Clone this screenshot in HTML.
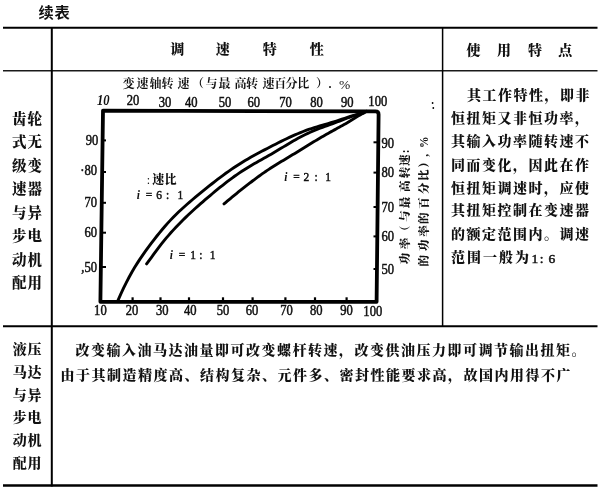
<!DOCTYPE html>
<html><head><meta charset="utf-8"><title>续表</title>
<style>
html,body{margin:0;padding:0;background:#fff;}
body{width:601px;height:489px;overflow:hidden;}
svg{display:block;filter:grayscale(1);}
text{fill:#111;}
</style></head><body>
<svg width="601" height="489" viewBox="0 0 601 489">
<text x="38.5" y="18" style='font-size:15.3px;font-weight:700;font-family:"Liberation Sans", "Noto Sans CJK SC", sans-serif;letter-spacing:0.6px;' >续表</text>
<line x1="3" y1="27.8" x2="597.5" y2="27.8" stroke="#000" stroke-width="2"/>
<line x1="3" y1="70.7" x2="597.5" y2="70.7" stroke="#1a1a1a" stroke-width="1.4"/>
<line x1="3" y1="326.2" x2="597.5" y2="326.2" stroke="#000" stroke-width="2"/>
<line x1="3" y1="485.5" x2="597.5" y2="485.5" stroke="#000" stroke-width="2.5"/>
<line x1="51.8" y1="27" x2="51.8" y2="486.5" stroke="#000" stroke-width="2"/>
<line x1="442.6" y1="27" x2="442.6" y2="326.5" stroke="#000" stroke-width="1.5"/>
<text x="170.3" y="54.2" style='font-size:14px;font-weight:900;font-family:"Liberation Serif", "Noto Serif CJK SC", serif;' >调</text>
<text x="215.8" y="54.2" style='font-size:14px;font-weight:900;font-family:"Liberation Serif", "Noto Serif CJK SC", serif;' >速</text>
<text x="262.8" y="54.2" style='font-size:14px;font-weight:900;font-family:"Liberation Serif", "Noto Serif CJK SC", serif;' >特</text>
<text x="309.8" y="54.2" style='font-size:14px;font-weight:900;font-family:"Liberation Serif", "Noto Serif CJK SC", serif;' >性</text>
<text x="466.4" y="54.6" style='font-size:14px;font-weight:900;font-family:"Liberation Serif", "Noto Serif CJK SC", serif;' >使</text>
<text x="496.9" y="54.6" style='font-size:14px;font-weight:900;font-family:"Liberation Serif", "Noto Serif CJK SC", serif;' >用</text>
<text x="528" y="54.6" style='font-size:14px;font-weight:900;font-family:"Liberation Serif", "Noto Serif CJK SC", serif;' >特</text>
<text x="558.3" y="54.6" style='font-size:14px;font-weight:900;font-family:"Liberation Serif", "Noto Serif CJK SC", serif;' >点</text>
<text x="12.0" y="123.8" style='font-size:14.5px;font-weight:900;font-family:"Liberation Serif", "Noto Serif CJK SC", serif;letter-spacing:0.9px;' >齿轮</text>
<text x="12.0" y="147.3" style='font-size:14.5px;font-weight:900;font-family:"Liberation Serif", "Noto Serif CJK SC", serif;letter-spacing:0.9px;' >式无</text>
<text x="12.0" y="170.8" style='font-size:14.5px;font-weight:900;font-family:"Liberation Serif", "Noto Serif CJK SC", serif;letter-spacing:0.9px;' >级变</text>
<text x="12.0" y="194.3" style='font-size:14.5px;font-weight:900;font-family:"Liberation Serif", "Noto Serif CJK SC", serif;letter-spacing:0.9px;' >速器</text>
<text x="12.0" y="217.8" style='font-size:14.5px;font-weight:900;font-family:"Liberation Serif", "Noto Serif CJK SC", serif;letter-spacing:0.9px;' >与异</text>
<text x="12.0" y="241.3" style='font-size:14.5px;font-weight:900;font-family:"Liberation Serif", "Noto Serif CJK SC", serif;letter-spacing:0.9px;' >步电</text>
<text x="12.0" y="264.8" style='font-size:14.5px;font-weight:900;font-family:"Liberation Serif", "Noto Serif CJK SC", serif;letter-spacing:0.9px;' >动机</text>
<text x="12.0" y="288.3" style='font-size:14.5px;font-weight:900;font-family:"Liberation Serif", "Noto Serif CJK SC", serif;letter-spacing:0.9px;' >配用</text>
<text x="12.8" y="354.0" style='font-size:14px;font-weight:900;font-family:"Liberation Serif", "Noto Serif CJK SC", serif;letter-spacing:0.6px;' >液压</text>
<text x="12.8" y="376.8" style='font-size:14px;font-weight:900;font-family:"Liberation Serif", "Noto Serif CJK SC", serif;letter-spacing:0.6px;' >马达</text>
<text x="12.8" y="399.6" style='font-size:14px;font-weight:900;font-family:"Liberation Serif", "Noto Serif CJK SC", serif;letter-spacing:0.6px;' >与异</text>
<text x="12.8" y="422.4" style='font-size:14px;font-weight:900;font-family:"Liberation Serif", "Noto Serif CJK SC", serif;letter-spacing:0.6px;' >步电</text>
<text x="12.8" y="445.2" style='font-size:14px;font-weight:900;font-family:"Liberation Serif", "Noto Serif CJK SC", serif;letter-spacing:0.6px;' >动机</text>
<text x="12.8" y="468.0" style='font-size:14px;font-weight:900;font-family:"Liberation Serif", "Noto Serif CJK SC", serif;letter-spacing:0.6px;' >配用</text>
<text x="467" y="100.3" style='font-size:14px;font-weight:900;font-family:"Liberation Serif", "Noto Serif CJK SC", serif;letter-spacing:1.5px;' >其工作特性，即非</text>
<text x="451" y="123.4" style='font-size:14px;font-weight:900;font-family:"Liberation Serif", "Noto Serif CJK SC", serif;letter-spacing:1.5px;' >恒扭矩又非恒功率，</text>
<text x="451" y="146.0" style='font-size:14px;font-weight:900;font-family:"Liberation Serif", "Noto Serif CJK SC", serif;letter-spacing:1.5px;' >其输入功率随转速不</text>
<text x="451" y="169.5" style='font-size:14px;font-weight:900;font-family:"Liberation Serif", "Noto Serif CJK SC", serif;letter-spacing:1.5px;' >同而变化，因此在作</text>
<text x="451" y="192.5" style='font-size:14px;font-weight:900;font-family:"Liberation Serif", "Noto Serif CJK SC", serif;letter-spacing:1.5px;' >恒扭矩调速时，应使</text>
<text x="451" y="215.1" style='font-size:14px;font-weight:900;font-family:"Liberation Serif", "Noto Serif CJK SC", serif;letter-spacing:1.5px;' >其扭矩控制在变速器</text>
<text x="451" y="239.2" style='font-size:14px;font-weight:900;font-family:"Liberation Serif", "Noto Serif CJK SC", serif;letter-spacing:1.5px;' >的额定范围内。调速</text>
<text x="451" y="262.3" style='font-size:14px;font-weight:900;font-family:"Liberation Serif", "Noto Serif CJK SC", serif;letter-spacing:2.0px;' >范围一般为</text>
<text x="531.5" y="263.3" style='font-size:13.5px;font-weight:400;font-family:"Liberation Serif", serif;stroke:#111;stroke-width:0.5px;'>1</text>
<text x="539.8" y="263.3" style='font-size:13.5px;font-weight:400;font-family:"Liberation Serif", serif;stroke:#111;stroke-width:0.5px;'>:</text>
<text x="548.5" y="263.3" style='font-size:13.5px;font-weight:400;font-family:"Liberation Serif", serif;stroke:#111;stroke-width:0.5px;'>6</text>
<text x="75.6" y="355.3" style='font-size:14px;font-weight:900;font-family:"Liberation Serif", "Noto Serif CJK SC", serif;letter-spacing:1.5px;' >改变输入油马达油量即可改变螺杆转速，改变供油压力即可调节输出扭矩。</text>
<text x="60.6" y="379.5" style='font-size:14px;font-weight:900;font-family:"Liberation Serif", "Noto Serif CJK SC", serif;letter-spacing:1.5px;' >由于其制造精度高、结构复杂、元件多、密封性能要求高，故国内用得不广</text>
<path d="M103,110.6 L375.5,111.4 Q378.6,111.4 378.6,114.5 L376.6,301.8 L100.4,301.8 Z" fill="none" stroke="#000" stroke-width="3.8" stroke-linejoin="round"/>
<line x1="132.6" y1="297.3" x2="132.6" y2="301" stroke="#000" stroke-width="2.2"/>
<line x1="160.5" y1="297.3" x2="160.5" y2="301" stroke="#000" stroke-width="2.2"/>
<line x1="189" y1="297.3" x2="189" y2="301" stroke="#000" stroke-width="2.2"/>
<line x1="223" y1="297.3" x2="223" y2="301" stroke="#000" stroke-width="2.2"/>
<line x1="252.6" y1="297.3" x2="252.6" y2="301" stroke="#000" stroke-width="2.2"/>
<line x1="285.4" y1="297.3" x2="285.4" y2="301" stroke="#000" stroke-width="2.2"/>
<line x1="315" y1="297.3" x2="315" y2="301" stroke="#000" stroke-width="2.2"/>
<line x1="346.6" y1="297.3" x2="346.6" y2="301" stroke="#000" stroke-width="2.2"/>
<line x1="101" y1="140.4" x2="106" y2="140.4" stroke="#000" stroke-width="2"/>
<line x1="101" y1="172" x2="106" y2="172" stroke="#000" stroke-width="2"/>
<line x1="101" y1="202.8" x2="106" y2="202.8" stroke="#000" stroke-width="2"/>
<line x1="101" y1="232.7" x2="106" y2="232.7" stroke="#000" stroke-width="2"/>
<line x1="101" y1="267" x2="106" y2="267" stroke="#000" stroke-width="2"/>
<line x1="373.5" y1="142.3" x2="378" y2="142.3" stroke="#000" stroke-width="2"/>
<line x1="373.5" y1="172.6" x2="378" y2="172.6" stroke="#000" stroke-width="2"/>
<line x1="373.5" y1="207" x2="378" y2="207" stroke="#000" stroke-width="2"/>
<line x1="373.5" y1="236.4" x2="378" y2="236.4" stroke="#000" stroke-width="2"/>
<line x1="373.5" y1="269" x2="378" y2="269" stroke="#000" stroke-width="2"/>
<text transform="translate(103.3,105) scale(0.9,1)" text-anchor="middle" style='font-size:14px;font-weight:700;font-style:italic;font-family:"Liberation Serif", serif;'>10</text>
<text transform="translate(133,104.6) scale(0.9,1)" text-anchor="middle" style='font-size:14px;font-weight:400;font-family:"Liberation Serif", serif;stroke:#111;stroke-width:0.5px;'>20</text>
<text transform="translate(165,107.3) scale(0.9,1)" text-anchor="middle" style='font-size:14px;font-weight:400;font-family:"Liberation Serif", serif;stroke:#111;stroke-width:0.5px;'>30</text>
<text transform="translate(191.3,107.3) scale(0.9,1)" text-anchor="middle" style='font-size:14px;font-weight:400;font-family:"Liberation Serif", serif;stroke:#111;stroke-width:0.5px;'>40</text>
<text transform="translate(225,106.5) scale(0.9,1)" text-anchor="middle" style='font-size:14px;font-weight:400;font-family:"Liberation Serif", serif;stroke:#111;stroke-width:0.5px;'>50</text>
<text transform="translate(253.7,107.3) scale(0.9,1)" text-anchor="middle" style='font-size:14px;font-weight:400;font-family:"Liberation Serif", serif;stroke:#111;stroke-width:0.5px;'>60</text>
<text transform="translate(285.5,106.5) scale(0.9,1)" text-anchor="middle" style='font-size:14px;font-weight:400;font-family:"Liberation Serif", serif;stroke:#111;stroke-width:0.5px;'>70</text>
<text transform="translate(316.5,107.2) scale(0.9,1)" text-anchor="middle" style='font-size:14px;font-weight:400;font-family:"Liberation Serif", serif;stroke:#111;stroke-width:0.5px;'>80</text>
<text transform="translate(347.3,106.8) scale(0.9,1)" text-anchor="middle" style='font-size:14px;font-weight:400;font-family:"Liberation Serif", serif;stroke:#111;stroke-width:0.5px;'>90</text>
<text transform="translate(377.8,105.7) scale(0.9,1)" text-anchor="middle" style='font-size:14px;font-weight:400;font-family:"Liberation Serif", serif;stroke:#111;stroke-width:0.5px;'>100</text>
<text transform="translate(100.4,315.3) scale(0.9,1)" text-anchor="middle" style='font-size:14px;font-weight:400;font-family:"Liberation Serif", serif;stroke:#111;stroke-width:0.5px;'>10</text>
<text transform="translate(132,315.3) scale(0.9,1)" text-anchor="middle" style='font-size:14px;font-weight:400;font-family:"Liberation Serif", serif;stroke:#111;stroke-width:0.5px;'>20</text>
<text transform="translate(162.3,315.3) scale(0.9,1)" text-anchor="middle" style='font-size:14px;font-weight:400;font-family:"Liberation Serif", serif;stroke:#111;stroke-width:0.5px;'>30</text>
<text transform="translate(190.3,315.3) scale(0.9,1)" text-anchor="middle" style='font-size:14px;font-weight:400;font-family:"Liberation Serif", serif;stroke:#111;stroke-width:0.5px;'>40</text>
<text transform="translate(223,315.3) scale(0.9,1)" text-anchor="middle" style='font-size:14px;font-weight:400;font-family:"Liberation Serif", serif;stroke:#111;stroke-width:0.5px;'>50</text>
<text transform="translate(252,315.3) scale(0.9,1)" text-anchor="middle" style='font-size:14px;font-weight:400;font-family:"Liberation Serif", serif;stroke:#111;stroke-width:0.5px;'>60</text>
<text transform="translate(286.6,315.3) scale(0.9,1)" text-anchor="middle" style='font-size:14px;font-weight:400;font-family:"Liberation Serif", serif;stroke:#111;stroke-width:0.5px;'>70</text>
<text transform="translate(316.3,315.3) scale(0.9,1)" text-anchor="middle" style='font-size:14px;font-weight:400;font-family:"Liberation Serif", serif;stroke:#111;stroke-width:0.5px;'>80</text>
<text transform="translate(346.5,315.3) scale(0.9,1)" text-anchor="middle" style='font-size:14px;font-weight:400;font-family:"Liberation Serif", serif;stroke:#111;stroke-width:0.5px;'>90</text>
<text transform="translate(372.8,316.2) scale(0.9,1)" text-anchor="middle" style='font-size:14px;font-weight:400;font-family:"Liberation Serif", serif;stroke:#111;stroke-width:0.5px;'>100</text>
<text transform="translate(98.3,144.5) scale(0.9,1)" text-anchor="end" style='font-size:14px;font-weight:400;font-family:"Liberation Serif", serif;stroke:#111;stroke-width:0.5px;'>90</text>
<text transform="translate(97,175.2) scale(0.9,1)" text-anchor="end" style='font-size:14px;font-weight:400;font-family:"Liberation Serif", serif;stroke:#111;stroke-width:0.5px;'>·80</text>
<text transform="translate(97,207) scale(0.9,1)" text-anchor="end" style='font-size:14px;font-weight:400;font-family:"Liberation Serif", serif;stroke:#111;stroke-width:0.5px;'>70</text>
<text transform="translate(97,236.8) scale(0.9,1)" text-anchor="end" style='font-size:14px;font-weight:400;font-family:"Liberation Serif", serif;stroke:#111;stroke-width:0.5px;'>60</text>
<text transform="translate(97,271.6) scale(0.9,1)" text-anchor="end" style='font-size:14px;font-weight:400;font-family:"Liberation Serif", serif;stroke:#111;stroke-width:0.5px;'>,50</text>
<text transform="translate(381.5,147.6) scale(0.9,1)" text-anchor="start" style='font-size:14px;font-weight:400;font-family:"Liberation Serif", serif;stroke:#111;stroke-width:0.5px;'>90</text>
<text transform="translate(381.5,177.3) scale(0.9,1)" text-anchor="start" style='font-size:14px;font-weight:400;font-family:"Liberation Serif", serif;stroke:#111;stroke-width:0.5px;'>80</text>
<text transform="translate(381.5,212) scale(0.9,1)" text-anchor="start" style='font-size:14px;font-weight:400;font-family:"Liberation Serif", serif;stroke:#111;stroke-width:0.5px;'>70</text>
<text transform="translate(381.5,241) scale(0.9,1)" text-anchor="start" style='font-size:14px;font-weight:400;font-family:"Liberation Serif", serif;stroke:#111;stroke-width:0.5px;'>60</text>
<text transform="translate(381.5,273.6) scale(0.9,1)" text-anchor="start" style='font-size:14px;font-weight:400;font-family:"Liberation Serif", serif;stroke:#111;stroke-width:0.5px;'>50</text>
<text x="122.7" y="87.8" style='font-size:12px;font-weight:700;font-family:"Liberation Serif", "Noto Serif CJK SC", serif;'>变</text>
<text x="136.4" y="87.8" style='font-size:12px;font-weight:700;font-family:"Liberation Serif", "Noto Serif CJK SC", serif;'>速</text>
<text x="149.6" y="87.8" style='font-size:12px;font-weight:700;font-family:"Liberation Serif", "Noto Serif CJK SC", serif;'>轴</text>
<text x="161.5" y="87.8" style='font-size:12px;font-weight:700;font-family:"Liberation Serif", "Noto Serif CJK SC", serif;'>转</text>
<text x="177.5" y="87.8" style='font-size:12px;font-weight:700;font-family:"Liberation Serif", "Noto Serif CJK SC", serif;'>速</text>
<text x="192" y="87.8" style='font-size:12px;font-weight:700;font-family:"Liberation Serif", "Noto Serif CJK SC", serif;'>（</text>
<text x="205.5" y="87.8" style='font-size:12px;font-weight:700;font-family:"Liberation Serif", "Noto Serif CJK SC", serif;'>与</text>
<text x="218.6" y="87.8" style='font-size:12px;font-weight:700;font-family:"Liberation Serif", "Noto Serif CJK SC", serif;'>最</text>
<text x="234.5" y="87.8" style='font-size:12px;font-weight:700;font-family:"Liberation Serif", "Noto Serif CJK SC", serif;'>高</text>
<text x="245.9" y="87.8" style='font-size:12px;font-weight:700;font-family:"Liberation Serif", "Noto Serif CJK SC", serif;'>转</text>
<text x="262.4" y="87.8" style='font-size:12px;font-weight:700;font-family:"Liberation Serif", "Noto Serif CJK SC", serif;'>速</text>
<text x="274.3" y="87.8" style='font-size:12px;font-weight:700;font-family:"Liberation Serif", "Noto Serif CJK SC", serif;'>百</text>
<text x="285.5" y="87.8" style='font-size:12px;font-weight:700;font-family:"Liberation Serif", "Noto Serif CJK SC", serif;'>分</text>
<text x="297.3" y="87.8" style='font-size:12px;font-weight:700;font-family:"Liberation Serif", "Noto Serif CJK SC", serif;'>比</text>
<text x="316" y="87.8" style='font-size:12px;font-weight:700;font-family:"Liberation Serif", "Noto Serif CJK SC", serif;'>）</text>
<text x="328.5" y="87.8" style='font-size:12px;font-weight:700;font-family:"Liberation Serif", "Noto Serif CJK SC", serif;'>.</text>
<text x="339" y="88.8" style='font-size:13.5px;font-family:"Liberation Serif", serif;'>%</text>
<text transform="translate(408.6,264.2) rotate(-90)" style='font-size:11.5px;font-weight:900;font-family:"Liberation Serif", "Noto Serif CJK SC", serif;'>功</text>
<text transform="translate(408.6,249.3) rotate(-90)" style='font-size:11.5px;font-weight:900;font-family:"Liberation Serif", "Noto Serif CJK SC", serif;'>率</text>
<text transform="translate(408.6,237) rotate(-90)" style='font-size:11.5px;font-weight:900;font-family:"Liberation Serif", "Noto Serif CJK SC", serif;'>（</text>
<text transform="translate(408.6,221.7) rotate(-90)" style='font-size:11.5px;font-weight:900;font-family:"Liberation Serif", "Noto Serif CJK SC", serif;'>与</text>
<text transform="translate(408.6,208.3) rotate(-90)" style='font-size:11.5px;font-weight:900;font-family:"Liberation Serif", "Noto Serif CJK SC", serif;'>最</text>
<text transform="translate(408.6,191.9) rotate(-90)" style='font-size:11.5px;font-weight:900;font-family:"Liberation Serif", "Noto Serif CJK SC", serif;'>高</text>
<text transform="translate(408.6,178.2) rotate(-90)" style='font-size:11.5px;font-weight:900;font-family:"Liberation Serif", "Noto Serif CJK SC", serif;'>转</text>
<text transform="translate(408.6,166) rotate(-90)" style='font-size:11.5px;font-weight:900;font-family:"Liberation Serif", "Noto Serif CJK SC", serif;'>速</text>
<text transform="translate(408.6,153.2) rotate(-90)" style='font-size:11.5px;font-weight:900;font-family:"Liberation Serif", "Noto Serif CJK SC", serif;'>:</text>
<text transform="translate(428,266.6) rotate(-90)" style='font-size:11.5px;font-weight:900;font-family:"Liberation Serif", "Noto Serif CJK SC", serif;'>的</text>
<text transform="translate(428,251) rotate(-90)" style='font-size:11.5px;font-weight:900;font-family:"Liberation Serif", "Noto Serif CJK SC", serif;'>功</text>
<text transform="translate(428,236.8) rotate(-90)" style='font-size:11.5px;font-weight:900;font-family:"Liberation Serif", "Noto Serif CJK SC", serif;'>率</text>
<text transform="translate(428,224) rotate(-90)" style='font-size:11.5px;font-weight:900;font-family:"Liberation Serif", "Noto Serif CJK SC", serif;'>的</text>
<text transform="translate(428,208.7) rotate(-90)" style='font-size:11.5px;font-weight:900;font-family:"Liberation Serif", "Noto Serif CJK SC", serif;'>百</text>
<text transform="translate(428,194) rotate(-90)" style='font-size:11.5px;font-weight:900;font-family:"Liberation Serif", "Noto Serif CJK SC", serif;'>分</text>
<text transform="translate(428,181) rotate(-90)" style='font-size:11.5px;font-weight:900;font-family:"Liberation Serif", "Noto Serif CJK SC", serif;'>比</text>
<text transform="translate(428,167.8) rotate(-90)" style='font-size:11.5px;font-weight:900;font-family:"Liberation Serif", "Noto Serif CJK SC", serif;'>）</text>
<text transform="translate(428,156.8) rotate(-90)" style='font-size:11.5px;font-weight:900;font-family:"Liberation Serif", "Noto Serif CJK SC", serif;'>,</text>
<text transform="translate(428,148) rotate(-90)" style='font-size:11.5px;font-weight:900;font-family:"Liberation Serif", "Noto Serif CJK SC", serif;'>%</text>
<path d="M118.0,300.44 L120.76,294.12 L123.53,288.16 L126.29,282.55 L129.06,277.27 L131.82,272.28 L134.58,267.57 L137.35,263.12 L140.11,258.87 L142.88,254.81 L145.64,250.9 L148.4,247.11 L151.17,243.41 L153.93,239.8 L156.7,236.27 L159.46,232.82 L162.22,229.48 L164.99,226.24 L167.75,223.12 L170.52,220.13 L173.28,217.25 L176.04,214.48 L178.81,211.81 L181.57,209.23 L184.34,206.72 L187.1,204.27 L189.87,201.88 L192.63,199.52 L195.39,197.2 L198.16,194.91 L200.92,192.63 L203.69,190.38 L206.45,188.15 L209.21,185.94 L211.98,183.75 L214.74,181.59 L217.51,179.46 L220.27,177.37 L223.03,175.31 L225.8,173.29 L228.56,171.32 L231.33,169.4 L234.09,167.53 L236.85,165.71 L239.62,163.95 L242.38,162.23 L245.15,160.56 L247.91,158.93 L250.67,157.35 L253.44,155.8 L256.2,154.29 L258.97,152.8 L261.73,151.32 L264.49,149.87 L267.26,148.43 L270.02,147.0 L272.79,145.58 L275.55,144.17 L278.31,142.77 L281.08,141.4 L283.84,140.04 L286.61,138.71 L289.37,137.41 L292.13,136.14 L294.9,134.91 L297.66,133.73 L300.43,132.59 L303.19,131.49 L305.96,130.45 L308.72,129.46 L311.48,128.52 L314.25,127.63 L317.01,126.78 L319.78,125.96 L322.54,125.16 L325.3,124.37 L328.07,123.57 L330.83,122.75 L333.6,121.91 L336.36,121.04 L339.12,120.14 L341.89,119.21 L344.65,118.28 L347.42,117.36 L350.18,116.46 L352.94,115.61 L355.71,114.81 L358.47,114.09 L361.24,113.45 L364.0,112.91" fill="none" stroke="#000" stroke-width="2.9" stroke-linecap="round" stroke-linejoin="round"/>
<path d="M146.6,263.94 L149.04,260.61 L151.49,257.28 L153.93,253.93 L156.37,250.6 L158.81,247.34 L161.26,244.17 L163.7,241.11 L166.14,238.17 L168.58,235.32 L171.03,232.56 L173.47,229.88 L175.91,227.27 L178.36,224.72 L180.8,222.22 L183.24,219.79 L185.68,217.4 L188.13,215.07 L190.57,212.77 L193.01,210.52 L195.45,208.3 L197.9,206.11 L200.34,203.95 L202.78,201.81 L205.22,199.7 L207.67,197.61 L210.11,195.54 L212.55,193.49 L215.0,191.46 L217.44,189.46 L219.88,187.48 L222.32,185.53 L224.77,183.61 L227.21,181.72 L229.65,179.87 L232.09,178.06 L234.54,176.3 L236.98,174.58 L239.42,172.91 L241.87,171.28 L244.31,169.71 L246.75,168.17 L249.19,166.69 L251.64,165.23 L254.08,163.82 L256.52,162.42 L258.96,161.05 L261.41,159.68 L263.85,158.32 L266.29,156.94 L268.73,155.56 L271.18,154.15 L273.62,152.73 L276.06,151.29 L278.51,149.83 L280.95,148.36 L283.39,146.88 L285.83,145.4 L288.28,143.93 L290.72,142.47 L293.16,141.04 L295.6,139.64 L298.05,138.28 L300.49,136.97 L302.93,135.7 L305.38,134.49 L307.82,133.33 L310.26,132.22 L312.7,131.17 L315.15,130.16 L317.59,129.2 L320.03,128.27 L322.47,127.37 L324.92,126.48 L327.36,125.6 L329.8,124.72 L332.24,123.83 L334.69,122.92 L337.13,122.0 L339.57,121.06 L342.02,120.12 L344.46,119.18 L346.9,118.25 L349.34,117.34 L351.79,116.46 L354.23,115.62 L356.67,114.83 L359.11,114.1 L361.56,113.42 L364.0,112.82" fill="none" stroke="#000" stroke-width="2.9" stroke-linecap="round" stroke-linejoin="round"/>
<path d="M224.0,203.89 L225.6,202.53 L227.2,201.18 L228.8,199.84 L230.4,198.51 L232.01,197.19 L233.61,195.87 L235.21,194.57 L236.81,193.27 L238.41,191.99 L240.01,190.71 L241.61,189.43 L243.21,188.17 L244.81,186.92 L246.42,185.67 L248.02,184.43 L249.62,183.2 L251.22,181.98 L252.82,180.76 L254.42,179.55 L256.02,178.35 L257.62,177.16 L259.22,175.98 L260.83,174.83 L262.43,173.69 L264.03,172.58 L265.63,171.49 L267.23,170.41 L268.83,169.36 L270.43,168.32 L272.03,167.29 L273.63,166.28 L275.24,165.27 L276.84,164.28 L278.44,163.3 L280.04,162.32 L281.64,161.35 L283.24,160.39 L284.84,159.42 L286.44,158.46 L288.04,157.5 L289.65,156.54 L291.25,155.58 L292.85,154.61 L294.45,153.64 L296.05,152.66 L297.65,151.67 L299.25,150.68 L300.85,149.67 L302.46,148.67 L304.06,147.68 L305.66,146.69 L307.26,145.71 L308.86,144.73 L310.46,143.76 L312.06,142.8 L313.66,141.84 L315.26,140.88 L316.87,139.93 L318.47,138.99 L320.07,138.06 L321.67,137.12 L323.27,136.2 L324.87,135.28 L326.47,134.36 L328.07,133.45 L329.67,132.54 L331.28,131.64 L332.88,130.75 L334.48,129.86 L336.08,128.97 L337.68,128.09 L339.28,127.21 L340.88,126.34 L342.48,125.47 L344.08,124.58 L345.69,123.66 L347.29,122.71 L348.89,121.74 L350.49,120.76 L352.09,119.78 L353.69,118.78 L355.29,117.8 L356.89,116.81 L358.49,115.85 L360.1,114.9 L361.7,113.97 L363.3,113.07 L364.9,112.21 L366.5,111.38" fill="none" stroke="#000" stroke-width="2.9" stroke-linecap="round" stroke-linejoin="round"/>
<text x="146.8" y="183.5" style='font-size:12px;font-weight:400;font-family:"Liberation Serif", serif;' >:</text>
<text x="152.2" y="183.5" style='font-size:12px;font-weight:900;font-family:"Liberation Serif", "Noto Serif CJK SC", serif;' >速</text>
<text x="164.4" y="183.5" style='font-size:12px;font-weight:900;font-family:"Liberation Serif", "Noto Serif CJK SC", serif;' >比</text>
<text transform="translate(138.4,198.8) scale(0.85,1)" text-anchor="middle" style='font-size:13.5px;font-family:"Liberation Serif", serif;font-style:italic;font-weight:700;'>i</text>
<text transform="translate(148.9,198.8) scale(0.85,1)" text-anchor="middle" style='font-size:13.5px;font-family:"Liberation Serif", serif;font-weight:400;stroke:#111;stroke-width:0.5px;'>=</text>
<text transform="translate(159.1,198.8) scale(0.85,1)" text-anchor="middle" style='font-size:13.5px;font-family:"Liberation Serif", serif;font-weight:400;stroke:#111;stroke-width:0.5px;'>6</text>
<text transform="translate(167.5,198.8) scale(0.85,1)" text-anchor="middle" style='font-size:13.5px;font-family:"Liberation Serif", serif;font-weight:400;stroke:#111;stroke-width:0.5px;'>:</text>
<text transform="translate(180.4,198.8) scale(0.85,1)" text-anchor="middle" style='font-size:13.5px;font-family:"Liberation Serif", serif;font-weight:400;stroke:#111;stroke-width:0.5px;'>1</text>
<text transform="translate(171.4,259.2) scale(0.85,1)" text-anchor="middle" style='font-size:13.5px;font-family:"Liberation Serif", serif;font-style:italic;font-weight:700;'>i</text>
<text transform="translate(182.1,259.2) scale(0.85,1)" text-anchor="middle" style='font-size:13.5px;font-family:"Liberation Serif", serif;font-weight:400;stroke:#111;stroke-width:0.5px;'>=</text>
<text transform="translate(193.2,259.2) scale(0.85,1)" text-anchor="middle" style='font-size:13.5px;font-family:"Liberation Serif", serif;font-weight:400;stroke:#111;stroke-width:0.5px;'>1</text>
<text transform="translate(200.8,259.2) scale(0.85,1)" text-anchor="middle" style='font-size:13.5px;font-family:"Liberation Serif", serif;font-weight:400;stroke:#111;stroke-width:0.5px;'>:</text>
<text transform="translate(212.7,259.2) scale(0.85,1)" text-anchor="middle" style='font-size:13.5px;font-family:"Liberation Serif", serif;font-weight:400;stroke:#111;stroke-width:0.5px;'>1</text>
<text transform="translate(285.8,181) scale(0.85,1)" text-anchor="middle" style='font-size:13.5px;font-family:"Liberation Serif", serif;font-style:italic;font-weight:700;'>i</text>
<text transform="translate(296.5,181) scale(0.85,1)" text-anchor="middle" style='font-size:13.5px;font-family:"Liberation Serif", serif;font-weight:400;stroke:#111;stroke-width:0.5px;'>=</text>
<text transform="translate(306.3,181) scale(0.85,1)" text-anchor="middle" style='font-size:13.5px;font-family:"Liberation Serif", serif;font-weight:400;stroke:#111;stroke-width:0.5px;'>2</text>
<text transform="translate(316.0,181) scale(0.85,1)" text-anchor="middle" style='font-size:13.5px;font-family:"Liberation Serif", serif;font-weight:400;stroke:#111;stroke-width:0.5px;'>:</text>
<text transform="translate(328.2,181) scale(0.85,1)" text-anchor="middle" style='font-size:13.5px;font-family:"Liberation Serif", serif;font-weight:400;stroke:#111;stroke-width:0.5px;'>1</text>
<circle cx="432.6" cy="103" r="0.9" fill="#000"/><circle cx="433.3" cy="108" r="0.9" fill="#000"/>
</svg>
</body></html>
